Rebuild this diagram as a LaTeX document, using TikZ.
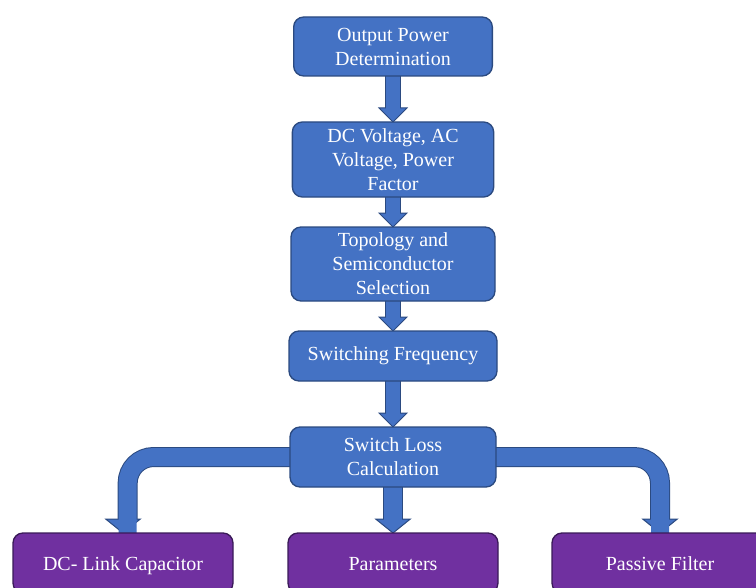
\documentclass[tikz,border=0pt]{standalone}
\usepackage{fontspec}
\setmainfont{Liberation Serif}
\newfontfamily\boxfont{Liberation Serif}
\usepackage{tikz}
\usetikzlibrary{positioning, calc, backgrounds}
\definecolor{boxblue}{HTML}{4472C4}
\definecolor{edgeblue}{HTML}{2B4A80}
\definecolor{boxpurple}{HTML}{7030A0}
\definecolor{edgepurple}{HTML}{3A1A58}
\tikzstyle{stage} = [rectangle, rounded corners=7.5pt, align=center, inner sep=1pt, outer sep=0pt, draw=edgeblue, line width=1pt, fill=boxblue, text=white, font=\boxfont\fontsize{15}{18}\selectfont]
\tikzstyle{result} = [rectangle, rounded corners=7.5pt, align=center, inner sep=1pt, outer sep=0pt, draw=edgepurple, line width=1pt, fill=boxpurple, text=white, text height=12pt, text depth=0.5pt, minimum height=45pt, font=\boxfont\fontsize{15}{18}\selectfont]
\tikzstyle{arrowedge} = [draw=edgeblue]
\tikzstyle{arrowbody} = [draw=boxblue]
\tikzstyle{arrowtip} = [fill=boxblue, draw=edgeblue, line width=0.75pt]
% shaft width, outline width, half head width, target node, path
\newcommand{\fatarrow}[5]{%
  \draw[arrowedge, line width=#2] #5;
  \draw[arrowtip] (#4.north) -- ++(-#3,10.5pt) -- ++(2*#3,0) -- cycle;
  \draw[arrowbody, line width=#1] #5 -- ++(0,-1pt);
}

\begin{document}
\begin{tikzpicture}
\useasboundingbox (0,0) rectangle (567pt,-441pt);

\node (out) [stage, minimum width=149pt, minimum height=44.25pt] at (294.75pt,-34.875pt)
   {Output Power\\Determination};
\node (volt) [stage, minimum width=151pt, minimum height=56.25pt, below=34.5pt of out]
   {DC Voltage, AC\\Voltage, Power\\Factor};
\node (topo) [stage, minimum width=153pt, minimum height=55.5pt, below=22.5pt of volt]
   {Topology and\\Semiconductor\\Selection};
\node (freq) [stage, minimum width=156pt, minimum height=37.5pt, below=22.5pt of topo]
   {Switching Frequency};
\node (loss) [stage, minimum width=154.5pt, minimum height=45pt, below=34.5pt of freq]
   {Switch Loss\\Calculation};
\node (par) [result, minimum width=157.5pt, below=34.5pt of loss] {Parameters};
\node (dclink) [result, minimum width=165pt, left=41.25pt of par] {DC- Link Capacitor};
\node (filter) [result, minimum width=162pt, right=40.5pt of par] {Passive Filter};

\begin{scope}[on background layer]
\fatarrow{10.5pt}{12pt}{10.5pt}{volt}{(out.south) -- ($(volt.north)+(0,10.5pt)$)}
\fatarrow{10.5pt}{12pt}{10.5pt}{topo}{(volt.south) -- ($(topo.north)+(0,10.5pt)$)}
\fatarrow{10.5pt}{12pt}{10.5pt}{freq}{(topo.south) -- ($(freq.north)+(0,10.5pt)$)}
\fatarrow{10.5pt}{12pt}{10.5pt}{loss}{(freq.south) -- ($(loss.north)+(0,10.5pt)$)}
\fatarrow{13.5pt}{15pt}{13pt}{par}{(loss.south) -- ($(par.north)+(0,10.5pt)$)}
\fatarrow{13.5pt}{15pt}{13pt}{dclink}{(loss.west) [rounded corners=19.5pt] -| ($(dclink.north)+(3.5pt,10.5pt)$)}
\fatarrow{13.5pt}{15pt}{13pt}{filter}{(loss.east) [rounded corners=19.5pt] -| ($(filter.north)+(0,10.5pt)$)}
\end{scope}

\end{tikzpicture}
\end{document}
